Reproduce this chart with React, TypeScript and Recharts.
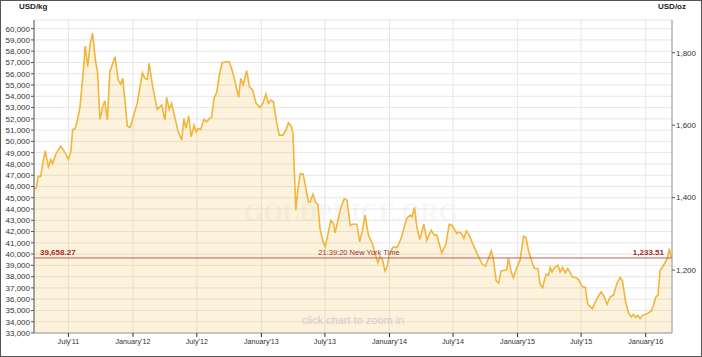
import { ComposedChart, Area, XAxis, YAxis, CartesianGrid, ReferenceLine } from "recharts"

// gold price, USD per kg
const prices2011: [string, number][] = [
    ["03-25", 45820], ["03-31", 45820], ["04-06", 46900], ["04-13", 46900], ["04-19", 48040],
    ["04-26", 49160], ["05-05", 47740], ["05-12", 48400], ["05-17", 48040], ["05-27", 48930],
    ["06-09", 49580], ["06-22", 48980], ["07-01", 48400], ["07-08", 49070], ["07-13", 51060],
    ["07-20", 51150], ["07-27", 51890], ["08-03", 53070], ["08-11", 55730], ["08-18", 58460],
    ["08-25", 56620], ["09-01", 58640], ["09-08", 59590], ["09-16", 57220], ["09-22", 56180],
    ["09-29", 51950], ["10-07", 53130], ["10-13", 53600], ["10-20", 51890], ["10-27", 56180],
    ["11-11", 57510], ["11-20", 55440], ["11-27", 55085], ["12-03", 55590], ["12-16", 51355],
    ["12-24", 51240],
]

const prices2012: [string, number][] = [
    ["01-13", 53370], ["01-28", 56090], ["02-04", 55590], ["02-11", 55500], ["02-16", 56920],
    ["02-26", 54900], ["03-10", 52840], ["03-23", 53220], ["04-01", 51890], ["04-06", 53900],
    ["04-13", 52840], ["04-20", 53370], ["04-30", 52040], ["05-09", 50850], ["05-19", 50110],
    ["05-25", 52040], ["05-31", 51150], ["06-08", 52240], ["06-15", 50400], ["06-23", 51440],
    ["06-29", 50850], ["07-05", 51150], ["07-12", 51060], ["07-21", 51950], ["07-29", 51740],
    ["08-06", 52040], ["08-12", 52130], ["08-19", 53815], ["08-27", 54400], ["09-03", 55880],
    ["09-11", 56980], ["09-22", 57065], ["10-01", 57065], ["10-08", 56480], ["10-18", 55290],
    ["10-28", 53900], ["11-03", 55590], ["11-10", 55000], ["11-20", 56270], ["11-28", 54845],
    ["12-07", 54550], ["12-17", 53370], ["12-28", 53015],
]

const prices2013: [string, number][] = [
    ["01-05", 53370], ["01-14", 54200], ["01-21", 53370], ["01-28", 53660], ["02-04", 53510],
    ["02-14", 51595], ["02-21", 50555], ["03-03", 50555], ["03-12", 51000], ["03-19", 51650],
    ["03-27", 51355], ["04-01", 50700], ["04-09", 43900], ["04-15", 45820], ["04-22", 47155],
    ["04-30", 47090], ["05-05", 46270], ["05-15", 44630], ["05-20", 44630], ["05-28", 45320],
    ["06-05", 44540], ["06-11", 44430], ["06-17", 42270], ["06-26", 41080], ["07-02", 40640],
    ["07-11", 41970], ["07-18", 43000], ["07-25", 42710], ["07-30", 41880], ["08-07", 43000],
    ["08-16", 44190], ["08-25", 44900], ["09-02", 44780], ["09-11", 42560], ["09-17", 42650],
    ["09-30", 42650], ["10-08", 41080], ["10-16", 42120], ["10-23", 43450], ["11-02", 41680],
    ["11-13", 40940], ["11-21", 40050], ["11-29", 39220], ["12-05", 39810], ["12-12", 39520],
    ["12-19", 38500], ["12-25", 38860], ["12-31", 39900],
]

const prices2014: [string, number][] = [
    ["01-06", 40340], ["01-12", 40640], ["01-22", 40580], ["01-28", 40940], ["02-05", 41590],
    ["02-12", 42410], ["02-19", 43160], ["03-01", 43450], ["03-06", 43300], ["03-13", 44140],
    ["03-20", 42410], ["03-28", 41290], ["04-09", 42650], ["04-17", 41230], ["04-30", 42120],
    ["05-09", 41680], ["05-16", 41680], ["05-30", 40100], ["06-11", 40940], ["06-20", 42650],
    ["06-28", 42560], ["07-12", 41830], ["07-18", 41970], ["07-26", 41830], ["08-01", 41380],
    ["08-08", 42060], ["08-16", 41680], ["08-28", 40790], ["09-07", 40100], ["09-21", 39160],
    ["10-01", 38920], ["10-10", 39610], ["10-18", 40280], ["10-24", 39520], ["11-01", 37620],
    ["11-08", 37440], ["11-15", 38500], ["11-25", 38570], ["12-01", 38630], ["12-06", 39610],
    ["12-14", 38420], ["12-20", 37920], ["12-30", 38810],
]

const prices2015: [string, number][] = [
    ["01-08", 39460], ["01-18", 41590], ["01-25", 41470], ["02-01", 40340], ["02-11", 39300],
    ["02-18", 38720], ["02-28", 38720], ["03-06", 37320], ["03-13", 37030], ["03-23", 38210],
    ["03-30", 38120], ["04-04", 38810], ["04-09", 38420], ["04-16", 38810], ["04-26", 39010],
    ["05-02", 38420], ["05-09", 38810], ["05-17", 38330], ["05-24", 38720], ["05-31", 38330],
    ["06-06", 37970], ["06-16", 37920], ["06-24", 37740], ["07-03", 37150], ["07-13", 37030],
    ["07-20", 35550], ["08-02", 35170], ["08-15", 36055], ["08-27", 36640], ["09-03", 36350],
    ["09-13", 35550], ["09-22", 36200], ["10-01", 36350], ["10-11", 37390], ["10-20", 37920],
    ["10-27", 37620], ["11-04", 35900], ["11-13", 34780], ["11-21", 34420], ["11-27", 34660],
    ["12-04", 34370], ["12-10", 34570], ["12-16", 34280], ["12-23", 34570], ["12-31", 34660],
]

const prices2016: [string, number][] = [
    ["01-09", 34780], ["01-17", 34950], ["01-23", 35460], ["01-30", 36200], ["02-05", 36350],
    ["02-11", 38570], ["02-18", 38860], ["02-26", 39300], ["03-04", 39700], ["03-08", 40495],
    ["03-14", 39658],
]

const years: [number, [string, number][]][] = [
    [2011, prices2011],
    [2012, prices2012],
    [2013, prices2013],
    [2014, prices2014],
    [2015, prices2015],
    [2016, prices2016],
]

const rangeStart = "2011-03-25"
const rangeEnd = "2016-03-16"

const xTickDates = [
    "2011-07-01", "2012-01-01", "2012-07-01", "2013-01-01", "2013-07-01",
    "2014-01-01", "2014-07-01", "2015-01-01", "2015-07-01", "2016-01-01",
]
const xTickLabels = [
    "July'11", "January'12", "July'12", "January'13", "July'13",
    "January'14", "July'14", "January'15", "July'15", "January'16",
]

const kgTicks = [
    33000, 34000, 35000, 36000, 37000, 38000, 39000, 40000, 41000, 42000,
    43000, 44000, 45000, 46000, 47000, 48000, 49000, 50000, 51000, 52000,
    53000, 54000, 55000, 56000, 57000, 58000, 59000, 60000,
]
const kgBottom = 33000
const kgTop = 60770
const ozTicks = [1200, 1400, 1600, 1800]
const OZ_PER_KG = 32.1507

const lastKg = 39658.27
const lastOz = 1233.51
const lastTime = "21:39:20 New York Time"

const data = years.flatMap(([year, rows]) =>
    rows.map(([md, kg]) => ({ t: Date.parse(`${year}-${md}`), kg }))
)
const xTicks = xTickDates.map((d) => Date.parse(d))

const FONT = "'Liberation Sans', Arial, sans-serif"
const fmt = (v: number) => v.toLocaleString("en-US")

function RefLabels(props: any) {
    const vb = props?.viewBox ?? {}
    const x = vb.x ?? 34
    const y = vb.y ?? 258
    const w = vb.width ?? 638
    return (
        <g>
            <text x={x + 6} y={y - 2.5} fontSize={8} fontWeight="bold" fill="#a8282a" fontFamily={FONT}>
                {lastKg.toLocaleString("en-US", { minimumFractionDigits: 2 })}
            </text>
            <text x={x + w / 2 + 6} y={y - 2.5} fontSize={7.5} fill="#9b3535" textAnchor="middle" fontFamily={FONT}>
                {lastTime}
            </text>
            <text x={x + w - 8} y={y - 2.5} fontSize={8} fontWeight="bold" fill="#a8282a" textAnchor="end" fontFamily={FONT}>
                {lastOz.toLocaleString("en-US", { minimumFractionDigits: 2 })}
            </text>
        </g>
    )
}

export default function App() {
    return (
        <div style={{ position: "relative", width: 702, height: 357, background: "#fff", fontFamily: FONT }}>
            <style>{"body{margin:0}"}</style>
            <div style={{ position: "absolute", left: 0, top: 199, width: 702, textAlign: "center", fontFamily: "'Liberation Serif', serif", fontWeight: "bold", fontSize: 25, color: "rgba(0,0,0,0.05)", pointerEvents: "none" }}>
                GOLDPRICE.ORG
            </div>
            <ComposedChart
                width={702}
                height={357}
                data={data}
                margin={{ top: 20, right: 0, bottom: 0, left: 0 }}
                style={{ position: "absolute", left: 0, top: 0 }}
            >
                <CartesianGrid yAxisId="kg" stroke="#e6e6e6" strokeWidth={1} />
                <XAxis
                    dataKey="t"
                    type="number"
                    domain={[Date.parse(rangeStart), Date.parse(rangeEnd)]}
                    ticks={xTicks}
                    tickFormatter={(v: number) => xTickLabels[xTicks.indexOf(v)] ?? ""}
                    height={24}
                    tick={{ fontSize: 7.2, fill: "#333", fontFamily: FONT }}
                    axisLine={{ stroke: "#999" }}
                    tickLine={{ stroke: "#333" }}
                    tickSize={4}
                    tickMargin={2}
                    allowDataOverflow
                />
                <YAxis
                    yAxisId="kg"
                    domain={[kgBottom, kgTop]}
                    ticks={kgTicks}
                    tickFormatter={fmt}
                    width={34}
                    tick={{ fontSize: 8, fill: "#333", fontFamily: FONT }}
                    axisLine={{ stroke: "#555" }}
                    tickLine={{ stroke: "#555" }}
                    tickSize={3}
                    tickMargin={1}
                    interval={0}
                    allowDataOverflow
                />
                <YAxis
                    yAxisId="oz"
                    orientation="right"
                    type="number"
                    domain={[kgBottom / OZ_PER_KG, kgTop / OZ_PER_KG]}
                    ticks={ozTicks}
                    tickFormatter={fmt}
                    width={30}
                    tick={{ fontSize: 8, fill: "#333", fontFamily: FONT }}
                    axisLine={{ stroke: "#999" }}
                    tickLine={{ stroke: "#555" }}
                    tickSize={3}
                    tickMargin={1}
                    interval={0}
                    allowDataOverflow
                />
                <Area
                    yAxisId="kg"
                    type="linear"
                    dataKey="kg"
                    stroke="#f2b53a"
                    strokeWidth={1.6}
                    fill="#f2b53a"
                    fillOpacity={0.18}
                    dot={false}
                    activeDot={false}
                    isAnimationActive={false}
                />
                <ReferenceLine yAxisId="kg" y={lastKg} stroke="#c65a55" strokeWidth={1} label={RefLabels} />
            </ComposedChart>
            <div style={{ position: "absolute", left: 19, top: 2, fontSize: 8, fontWeight: "bold", color: "#222" }}>USD/kg</div>
            <div style={{ position: "absolute", left: 658, top: 2, fontSize: 8, fontWeight: "bold", color: "#222" }}>USD/oz</div>
            <div style={{ position: "absolute", left: 34, width: 638, top: 314, textAlign: "center", fontSize: 11, color: "#cfcfcf" }}>
                click chart to zoom in
            </div>
            <div style={{ position: "absolute", inset: 0, border: "1px solid #555", boxSizing: "border-box", pointerEvents: "none" }} />
        </div>
    )
}
